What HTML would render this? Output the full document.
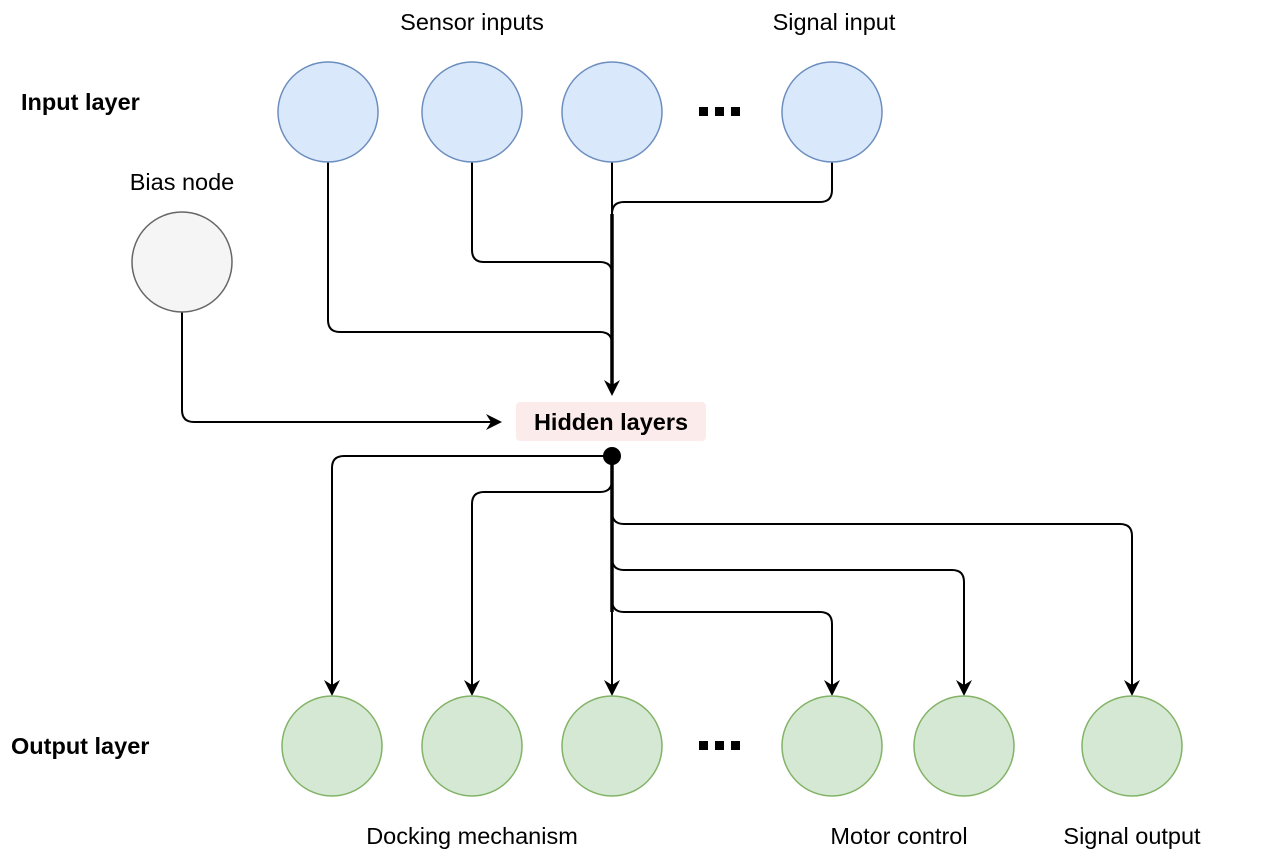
<!DOCTYPE html>
<html><head><meta charset="utf-8"><style>
html,body{margin:0;padding:0;background:#fff;}
svg{display:block;font-family:"Liberation Sans",Arial,sans-serif;}
</style></head><body>
<svg width="1265" height="859" viewBox="0 0 1265 859" xmlns="http://www.w3.org/2000/svg">
<g fill="none" stroke="#000" stroke-width="2">
<path d="M328,162 V320 Q328,332 340,332 H600 Q612,332 612,344 V388"/>
<path d="M472,162 V250 Q472,262 484,262 H600 Q612,262 612,274 V388"/>
<path d="M612,162 V388"/>
<path d="M832,162 V190 Q832,202 820,202 H624 Q612,202 612,214 V388"/>
<path d="M612,214 V388" stroke-width="3.5"/>
<path d="M182,312 V410 Q182,422 194,422 H494"/>
<path d="M612,456 H344 Q332,456 332,468 V688"/>
<path d="M612,456 V480 Q612,492 600,492 H484 Q472,492 472,504 V688"/>
<path d="M612,456 V688"/>
<path d="M612,456 V512 Q612,524 624,524 H1120 Q1132,524 1132,536 V688"/>
<path d="M612,456 V558 Q612,570 624,570 H952 Q964,570 964,582 V688"/>
<path d="M612,456 V600 Q612,612 624,612 H820 Q832,612 832,624 V688"/>
<path d="M612,456 V612" stroke-width="3.5"/>
</g>
<g fill="#000">
<path d="M612,396 L604,380 L612,385 L620,380 Z"/>
<path d="M502,422 L486,414 L491,422 L486,430 Z"/>
<path d="M332,696 L324,680 L332,685 L340,680 Z"/>
<path d="M472,696 L464,680 L472,685 L480,680 Z"/>
<path d="M612,696 L604,680 L612,685 L620,680 Z"/>
<path d="M832,696 L824,680 L832,685 L840,680 Z"/>
<path d="M964,696 L956,680 L964,685 L972,680 Z"/>
<path d="M1132,696 L1124,680 L1132,685 L1140,680 Z"/>
</g>
<circle cx="612" cy="456" r="9" fill="#000"/>
<g fill="#dae8fc" stroke="#6c8ebf" stroke-width="1.5">
<circle cx="328" cy="112" r="50"/><circle cx="472" cy="112" r="50"/><circle cx="612" cy="112" r="50"/><circle cx="832" cy="112" r="50"/>
</g>
<circle cx="182" cy="262" r="50" fill="#f5f5f5" stroke="#666" stroke-width="1.5"/>
<g fill="#d5e8d4" stroke="#82b366" stroke-width="1.5">
<circle cx="332" cy="746" r="50"/><circle cx="472" cy="746" r="50"/><circle cx="612" cy="746" r="50"/><circle cx="832" cy="746" r="50"/><circle cx="964" cy="746" r="50"/><circle cx="1132" cy="746" r="50"/>
</g>
<rect x="516" y="402" width="190" height="39" rx="4" fill="#fbeceb"/>
<text x="611" y="430" font-size="23.5" font-weight="bold" text-anchor="middle">Hidden layers</text>
<g font-size="23.5" fill="#000">
<text x="21" y="110" font-weight="bold">Input layer</text>
<text x="11" y="754" font-weight="bold">Output layer</text>
<text x="472" y="30" text-anchor="middle">Sensor inputs</text>
<text x="834" y="30" text-anchor="middle">Signal input</text>
<text x="182" y="190" text-anchor="middle">Bias node</text>
<text x="472" y="844" text-anchor="middle">Docking mechanism</text>
<text x="899" y="844" text-anchor="middle">Motor control</text>
<text x="1132" y="844" text-anchor="middle">Signal output</text>
</g>
<g fill="#000">
<rect x="699" y="107" width="9" height="9"/><rect x="715" y="107" width="9" height="9"/><rect x="731" y="107" width="9" height="9"/>
<rect x="699" y="741" width="9" height="9"/><rect x="715" y="741" width="9" height="9"/><rect x="731" y="741" width="9" height="9"/>
</g>
</svg>
</body></html>
